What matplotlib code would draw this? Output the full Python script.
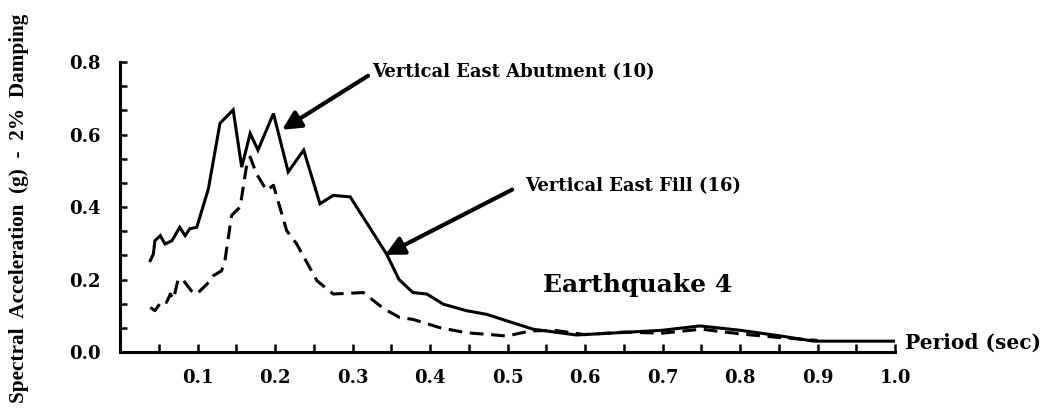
import matplotlib
matplotlib.use("Agg")
import matplotlib.pyplot as plt
from matplotlib.ticker import MultipleLocator

# response spectra
period_abut = [0.039, 0.043, 0.045, 0.052, 0.058, 0.067, 0.077, 0.084, 0.090, 0.099,
               0.114, 0.129, 0.146, 0.157, 0.168, 0.178, 0.198, 0.217, 0.237, 0.258,
               0.275, 0.297, 0.344, 0.360, 0.378, 0.396, 0.417, 0.447, 0.473, 0.499,
               0.533, 0.589, 0.641, 0.700, 0.748, 0.800, 0.850, 0.895, 1.000]
sa_abut = [0.252, 0.270, 0.307, 0.321, 0.298, 0.307, 0.344, 0.321, 0.340, 0.344,
           0.450, 0.631, 0.668, 0.510, 0.603, 0.557, 0.658, 0.497, 0.557, 0.409,
           0.432, 0.428, 0.270, 0.200, 0.164, 0.160, 0.132, 0.114, 0.104, 0.086,
           0.063, 0.047, 0.053, 0.060, 0.072, 0.060, 0.045, 0.030, 0.030]

period_fill = [0.039, 0.045, 0.054, 0.060, 0.065, 0.069, 0.075, 0.082, 0.092, 0.099,
               0.112, 0.120, 0.131, 0.135, 0.144, 0.155, 0.163, 0.168, 0.176, 0.189,
               0.198, 0.215, 0.228, 0.254, 0.275, 0.314, 0.340, 0.361, 0.378, 0.413,
               0.447, 0.473, 0.499, 0.529, 0.560, 0.600, 0.650, 0.700, 0.750, 0.800,
               0.850, 0.900]
sa_fill = [0.123, 0.114, 0.141, 0.137, 0.160, 0.146, 0.201, 0.197, 0.169, 0.160,
           0.187, 0.210, 0.224, 0.247, 0.377, 0.400, 0.510, 0.538, 0.492, 0.446,
           0.460, 0.335, 0.298, 0.197, 0.160, 0.164, 0.120, 0.095, 0.090, 0.067,
           0.053, 0.049, 0.044, 0.058, 0.060, 0.048, 0.055, 0.052, 0.063, 0.050,
           0.040, 0.032]

x_labels = ['0.1', '0.2', '0.3', '0.4', '0.5', '0.6', '0.7', '0.8', '0.9', '1.0']
y_labels = ['0.0', '0.2', '0.4', '0.6', '0.8']

fig = plt.figure(figsize=(10.5, 4.16), dpi=100)
ax = fig.add_axes([0.1143, 0.1538, 0.7381, 0.6971])

ax.plot(period_abut, sa_abut, color='black', lw=2.2, solid_joinstyle='miter')
ax.plot(period_fill, sa_fill, color='black', lw=2.2, dashes=(4.5, 2.5))

ax.set_xlim(0, 1.0)
ax.set_ylim(0, 0.8)
for s in ['top', 'right']:
    ax.spines[s].set_visible(False)
for s in ['left', 'bottom']:
    ax.spines[s].set_linewidth(2.2)

tick_font = dict(family='DejaVu Serif', weight='bold', size=13)
ax.set_xticks([0.1 * (i + 1) for i in range(len(x_labels))])
ax.set_xticklabels(x_labels, **tick_font)
ax.set_yticks([0.2 * i for i in range(len(y_labels))])
ax.set_yticklabels(y_labels, **tick_font)
ax.xaxis.set_minor_locator(MultipleLocator(0.05))
ax.yaxis.set_minor_locator(MultipleLocator(0.2 / 3))
ax.tick_params(which='both', direction='in', width=1.8, color='black')
ax.tick_params(axis='x', which='both', length=6, pad=12)
ax.tick_params(axis='y', which='both', length=5, pad=14)

# annotations
txt = dict(family='DejaVu Serif', weight='bold', size=13, va='center')
arrow = dict(arrowstyle='-|>', lw=3, color='black', mutation_scale=28, shrinkA=0, shrinkB=0)
ax.text(0.325, 0.773, 'Vertical East Abutment (10)', **txt)
ax.annotate('', xy=(0.209, 0.613), xytext=(0.32, 0.762), arrowprops=arrow)
ax.text(0.523, 0.459, 'Vertical East Fill (16)', **txt)
ax.annotate('', xy=(0.342, 0.268), xytext=(0.506, 0.448), arrowprops=arrow)
ax.text(0.546, 0.185, 'Earthquake 4', family='DejaVu Serif', weight='bold', size=18, va='center')
ax.text(1.013, 0.025, 'Period (sec)', family='DejaVu Serif', weight='bold', size=14.5,
        va='center', clip_on=False)

fig.text(0.018, 0.5, 'Spectral  Acceleration  (g)  -  2%  Damping', rotation=90,
         family='Liberation Serif', weight='bold', size=15.3, ha='center', va='center')

fig.savefig('out.png', dpi=100, facecolor='white')
